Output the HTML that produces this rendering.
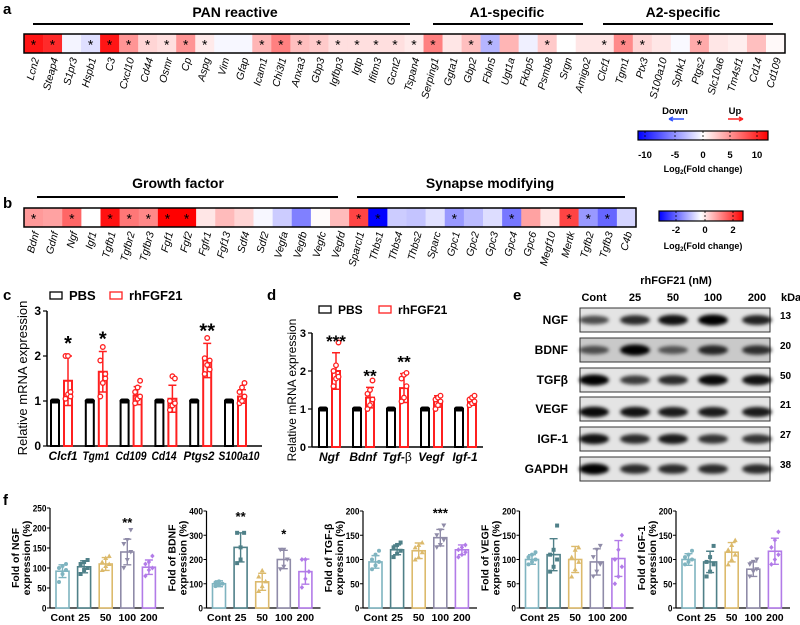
<!DOCTYPE html>
<html><head><meta charset="utf-8">
<style>
html,body{margin:0;padding:0;background:#fff;}
svg{display:block;font-family:"Liberation Sans",Arial,sans-serif;}
</style></head>
<body>
<svg id="fig" width="800" height="625" viewBox="0 0 800 625" xmlns="http://www.w3.org/2000/svg">
<defs>
<linearGradient id="gradA" x1="0" x2="1" y1="0" y2="0"><stop offset="0" stop-color="#0000ff"/><stop offset="0.5" stop-color="#ffffff"/><stop offset="1" stop-color="#ff0000"/></linearGradient>
<filter id="blur" x="-30%" y="-60%" width="160%" height="220%"><feGaussianBlur stdDeviation="1.8"/></filter>
</defs>
</svg>
<script>
// ---------- DATA ----------
const genesA = ["Lcn2","Steap4","S1pr3","Hspb1","C3","Cxcl10","Cd44","Osmr","Cp","Aspg","Vim","Gfap","Icam1","Chi3l1","Anxa3","Gbp3","Igfbp3","Igtp","Ifitm3","Gcnt2","Tspan4","Serping1","Ggta1","Gbp2","Fbln5","Ugt1a","Fkbp5","Psmb8","Srgn","Amigo2","Clcf1","Tgm1","Ptx3","S100a10","Sphk1","Ptgs2","Slc10a6","Tm4sf1","Cd14","Cd109"];
const valuesA = [11,10,-0.5,-1.5,11,5,2,1.5,5,1,-0.4,-0.4,3.5,6,3,2.5,1.5,1.5,1.5,1.5,1,6,1.2,3,-3.5,3.5,-0.7,2.5,0,1.2,1.2,5.5,2,1.2,-0.3,4,1.2,0.8,3,0.3];
const starsA = [1,1,0,1,1,1,1,1,1,1,0,0,1,1,1,1,1,1,1,1,1,1,0,1,1,0,0,1,0,0,1,1,1,0,0,1,0,0,0,0];
const genesB = ["Bdnf","Gdnf","Ngf","Igf1","Tgfb1","Tgfbr2","Tgfbr3","Fgf1","Fgf2","Fgfr1","Fgf13","Sdf4","Sdf2","Vegfa","Vegfb","Vegfc","Vegfd","Sparcl1","Thbs1","Thbs4","Thbs2","Sparc","Gpc1","Gpc2","Gpc3","Gpc4","Gpc6","Megf10","Mertk","Tgfb2","Tgfb3","C4b"];
const valuesB = [1.2,1.1,1.8,0,2.8,1.6,1.4,3,3,0.3,0.8,0.5,-0.1,-0.6,-1.5,0.05,0.8,2.2,-3,-0.6,-0.7,-0.35,-1.2,-0.8,-0.4,-1.6,1.1,0.3,2.2,-1.2,-1.8,-0.5];
const starsB = [1,0,1,0,1,1,1,1,1,0,0,0,0,0,0,0,0,1,1,0,0,0,1,0,0,1,0,0,1,1,1,0];

const catsC = ["Clcf1","Tgm1","Cd109","Cd14","Ptgs2","S100a10"];
const meansC = [1.45,1.65,1.12,1.05,1.9,1.1];
const errsC = [0.55,0.45,0.2,0.3,0.38,0.15];
const ptsC = [[1.05,1.15,1.2,2.0,2.0,1.1],[1.1,1.4,1.6,1.9,2.2,1.5],[0.95,1.05,1.1,1.2,1.3,1.45],[0.8,0.9,0.95,1.0,1.55,1.5],[1.6,1.8,1.9,1.95,2.4,1.7],[0.95,1.0,1.1,1.2,1.3,1.4]];
const starsC = ["*","*","","","**",""];
const ticksC = [0,1,2,3];

const catsD = ["Ngf","Bdnf","Tgf-","Vegf","Igf-1"];
const meansD = [2.0,1.3,1.55,1.2,1.2];
const errsD = [0.48,0.27,0.38,0.15,0.1];
const ptsD = [[1.6,1.8,1.85,2.0,2.15,2.75],[1.0,1.1,1.25,1.4,1.5,1.75],[1.2,1.3,1.6,1.8,1.9,1.95],[1.0,1.1,1.2,1.25,1.3,1.35],[1.1,1.15,1.2,1.25,1.3,1.35]];
const starsD = ["***","**","**","",""];
const ticksD = [0,1,2,3];

const doses = ["Cont","25","50","100","200"];
const blotRows = ["NGF","BDNF","TGFβ","VEGF","IGF-1","GAPDH"];
const blotKda = ["13","20","50","21","27","38"];
const blotInt = [[0.55,0.75,0.9,1,0.8],[0.5,1,0.45,0.75,0.7],[1,0.65,0.75,0.95,0.9],[0.95,0.9,0.85,0.85,0.85],[0.9,0.75,0.85,0.7,0.7],[1,0.75,0.75,0.75,0.75]];

const fNames = ["NGF","BDNF","TGF-β","VEGF","IGF-1"];
const fMax = [250,400,200,200,200];
const fStep = [50,100,50,50,50];
const fMeans = [[92,103,110,140,102],[100,250,108,200,150],[95,120,118,145,120],[100,110,100,95,102],[100,95,115,80,117]];
const fErrs = [[16,15,16,32,18],[12,60,35,38,52],[13,10,16,17,10],[10,33,27,27,37],[12,22,20,15,27]];
const fPts = [
 [[65,85,95,100,105,110],[85,95,100,110,115,120],[95,105,110,115,125,130],[100,120,140,160,170,195],[80,95,100,110,115,130]],
 [[90,95,100,105,110],[185,200,310,310,250],[70,90,110,130,155],[160,170,200,240,240],[85,120,150,200,200]],
 [[80,88,95,100,110,118],[105,112,118,125,130,135],[100,105,115,125,130,135],[125,130,140,150,160,170],[105,110,115,120,125,130]],
 [[90,95,100,105,110,115],[75,85,100,110,120,170],[65,80,95,105,120,125],[65,75,90,105,120,128],[50,65,85,100,120,150]],
 [[90,95,100,105,110,118],[65,75,90,95,105,128],[90,100,110,120,130,140],[65,75,80,90,95,100],[90,100,110,125,140,157]]];
const fStars = [["","","","**",""],["","**","","*",""],["","","","***",""],["","","","",""],["","","","",""]];

// ---------- HELPERS ----------
const NS="http://www.w3.org/2000/svg";
const svg=document.getElementById('fig');
function mk(tag,attrs,parent){const e=document.createElementNS(NS,tag);for(const k in attrs)e.setAttribute(k,attrs[k]);(parent||svg).appendChild(e);return e;}
function txt(s,attrs,parent){const e=mk('text',attrs,parent);e.textContent=s;return e;}
function heat(v,m){const t=Math.max(-1,Math.min(1,v/m));if(t>=0){const g=Math.round(255*(1-t));return `rgb(255,${g},${g})`;}const g=Math.round(255*(1+t));return `rgb(${g},${g},255)`;}
let e;

// ---------- PANEL LETTERS ----------
[["a",3,14],["b",3,208],["c",3,300],["d",267,300],["e",513,300],["f",3,505]].forEach(p=>{
 e=txt(p[0],{x:p[1],y:p[2],'font-size':15,'font-weight':'bold'});
 
 
});

// ---------- HEATMAP ----------
function heatmap(genes,vals,stars,x0,x1,y0,h,m,key){
 const cw=(x1-x0)/genes.length;
 genes.forEach((g,i)=>{
  e=mk('rect',{x:x0+i*cw,y:y0,width:cw+0.3,height:h,fill:heat(vals[i],m)});
  
  
  if(stars[i]){e=txt('*',{x:x0+(i+.5)*cw,y:y0+h/2+6,'text-anchor':'middle','font-size':14});
   
   }
  const cx=x0+(i+.5)*cw+3, ly=y0+h+5;
  e=txt(g,{x:cx,y:ly,'text-anchor':'end','font-size':10.5,'font-style':'italic',transform:`rotate(-75 ${cx} ${ly})`,'dominant-baseline':'middle'});
  
  
 });
 e=mk('rect',{x:x0,y:y0,width:x1-x0,height:h,fill:'none',stroke:'#000','stroke-width':1.5});
 
 
}
heatmap(genesA,valuesA,starsA,24,785,34,19,12,'heatmap-a');
heatmap(genesB,valuesB,starsB,24,636,208,19,3,'heatmap-b');

function group(label,cx,ty,lx0,lx1,ly){
 e=txt(label,{x:cx,y:ty,'text-anchor':'middle','font-size':14,'font-weight':'bold'});
 
 
 e=mk('line',{x1:lx0,x2:lx1,y1:ly,y2:ly,stroke:'#000','stroke-width':2});
 
 
}
group("PAN reactive",235,17,33,410,24);
group("A1-specific",507,17,433,583,24);
group("A2-specific",683,17,603,773,24);
group("Growth factor",178,188,37,338,197);
group("Synapse modifying",490,188,357,625,197);

// legend a
e=txt("Down",{x:675,y:114,'text-anchor':'middle','font-size':9.5,'font-weight':'bold'});


e=txt("Up",{x:735,y:114,'text-anchor':'middle','font-size':9.5,'font-weight':'bold'});


e=mk('path',{d:'M669 119 L684 119 M669 119 l4 -2 M669 119 l4 2',stroke:'#3355ff','stroke-width':1.5,fill:'none'});


e=mk('path',{d:'M728 119 L743 119 M743 119 l-4 -2 M743 119 l-4 2',stroke:'#ff2222','stroke-width':1.5,fill:'none'});


function colorbar(x0,x1,y0,h,ticks,tickPos,ty,lx,ly,key){
 e=mk('rect',{x:x0,y:y0,width:x1-x0,height:h,fill:'url(#gradA)',stroke:'#000','stroke-width':1.2});
 
 
 ticks.forEach((t,i)=>{
  e=mk('line',{x1:tickPos[i],x2:tickPos[i],y1:y0,y2:y0+h,stroke:'#000','stroke-width':0.8,'stroke-dasharray':'2 2'});
  
  
  e=txt(t,{x:tickPos[i],y:ty,'text-anchor':'middle','font-size':9.5,'font-weight':'bold'});
  
  
 });
 e=txt("",{x:lx,y:ly,'text-anchor':'middle','font-size':9,'font-weight':'bold'});
 
 
 e.innerHTML='Log<tspan font-size="6" dy="2">2</tspan><tspan dy="-2">(Fold change)</tspan>';
}
colorbar(638,768,131,9,["-10","-5","0","5","10"],[645,675,703,730,757],158,703,172,'a');
colorbar(659,743,211,10,["-2","0","2"],[676,705,733],233,703,249,'b');

// ---------- BAR CHARTS c, d ----------
function mrnaChart(o){
 const y=v=>o.y0-v*o.k;
 e=mk('line',{x1:o.ax,x2:o.ax,y1:y(3),y2:o.y0,stroke:'#000','stroke-width':1.5});
 
 
 e=mk('line',{x1:o.ax,x2:o.axEnd,y1:o.y0,y2:o.y0,stroke:'#000','stroke-width':1.5});
 
 
 o.ticks.forEach(t=>{
  e=mk('line',{x1:o.ax-4,x2:o.ax,y1:y(t),y2:y(t),stroke:'#000','stroke-width':1.2});
  
  
  e=txt(String(t),{x:o.ax-6,y:y(t)+4,'text-anchor':'end','font-size':o.fs,'font-weight':'bold'});
  
  
 });
 e=txt("Relative mRNA expression",{x:o.ylx,y:o.yly,'text-anchor':'middle','font-size':o.fs+1,transform:`rotate(-90 ${o.ylx} ${o.yly})`});
 
 
 o.cats.forEach((c,i)=>{
  const gx=o.g0+i*o.gs;
  e=mk('rect',{x:gx,y:y(1),width:8,height:o.y0-y(1),fill:'#fff',stroke:'#000','stroke-width':2});
  
  
  e=mk('rect',{x:gx-1,y:y(1)-2.5,width:10,height:5,rx:2.5,fill:'#000'});
  
  
  const rx=gx+o.rOff, cx=rx+4;
  e=mk('rect',{x:rx,y:y(o.means[i]),width:8,height:o.y0-y(o.means[i]),fill:'#fff',stroke:'#ff2020','stroke-width':2});
  
  
  const eu=y(o.means[i]+o.errs[i]), ed=y(o.means[i]-o.errs[i]);
  e=mk('path',{d:`M${cx} ${ed} L${cx} ${eu} M${cx-4} ${eu} L${cx+4} ${eu} M${cx-4} ${ed} L${cx+4} ${ed}`,stroke:'#ff2020','stroke-width':1.5,fill:'none'});
  
  
  o.pts[i].forEach((p,j)=>{
   e=mk('circle',{cx:cx+(j%3-1)*2.5,cy:y(p),r:2.3,fill:'#fff',stroke:'#ff2020','stroke-width':1.3});
   
   
  });
  if(o.stars[i]){e=txt(o.stars[i],{x:cx,y:eu-6,'text-anchor':'middle','font-size':o.sfs,'font-weight':'bold'});
   
   }
  const la={x:o.lx?o.lx[i]:gx+o.lOff,y:o.y0+14,'text-anchor':'middle','font-size':o.lfs,'font-weight':'bold','font-style':'italic'};
  if(o.lw) {la.textLength=o.lw[i]; la.lengthAdjust='spacingAndGlyphs';}
  e=txt(c,la);
  
  
  if(c==="Tgf-"){const t2=mk('tspan',{'font-style':'normal','font-weight':'normal'},e);t2.textContent='β';}
 });
 e=mk('rect',{x:o.lgx,y:o.lgy-5,width:12,height:7,fill:'#fff',stroke:'#000','stroke-width':1.3});
 
 
 e=txt("PBS",{x:o.lgx+19,y:o.lgy+3,'font-size':o.fs+1,'font-weight':'bold'});
 
 
 e=mk('rect',{x:o.lgx+60,y:o.lgy-5,width:12,height:7,fill:'#fff',stroke:'#ff2020','stroke-width':1.3});
 
 
 e=txt("rhFGF21",{x:o.lgx+79,y:o.lgy+3,'font-size':o.fs+1,'font-weight':'bold'});
 
 
}
mrnaChart({key:'c',cats:catsC,means:meansC,errs:errsC,pts:ptsC,stars:starsC,ticks:ticksC,ax:47,axEnd:262,y0:446,k:45,g0:51,gs:34.8,rOff:13,lOff:10,lx:[63,96,131,164,199,239],lw:[29,27,31,25,31,41],lfs:12,fs:12,sfs:20,ylx:27,yly:378,lgx:50,lgy:297});
mrnaChart({key:'d',cats:catsD,means:meansD,errs:errsD,pts:ptsD,stars:starsD,ticks:ticksD,ax:312,axEnd:483,y0:447,k:38,g0:319,gs:34,rOff:13,lOff:10,lfs:12,fs:11,sfs:17,ylx:296,yly:390,lgx:319,lgy:311});

// ---------- WESTERN BLOT ----------
e=txt("rhFGF21 (nM)",{x:676,y:284,'text-anchor':'middle','font-size':11,'font-weight':'bold'});


const laneX=[594,635,673,713,757];
doses.forEach((d,i)=>{
 e=txt(d,{x:laneX[i],y:301,'text-anchor':'middle','font-size':11,'font-weight':'bold'});
 
 
});
e=txt("kDa",{x:781,y:301,'font-size':11,'font-weight':'bold'});


const rowY=[308,338,368,397,427,457];
blotRows.forEach((r,ri)=>{
 const y0=rowY[ri];
 e=mk('rect',{x:580,y:y0,width:190,height:24,fill:ri===1?'#c9c9c9':'#e4e4e4',stroke:'#333','stroke-width':1});
 
 
 blotInt[ri].forEach((v,li)=>{
  e=mk('ellipse',{cx:laneX[li],cy:y0+(ri===3?15:12),rx:15,ry:3+2.5*v,fill:'#000','fill-opacity':0.25+0.75*v,filter:'url(#blur)'});
  
  
 });
 e=txt(r,{x:568,y:y0+16,'text-anchor':'end','font-size':12,'font-weight':'bold'});
 
 
 e=txt(blotKda[ri],{x:780,y:y0+11,'font-size':10,'font-weight':'bold'});
 
 
});

// ---------- PANEL f ----------
const fCols=["#7fb4c0","#4f8088","#dcba6c","#8f8ba8","#b27be8"];
function marker(shape,x,y,c){
 let d;
 if(shape===0) return mk('circle',{cx:x,cy:y,r:2,fill:c});
 if(shape===1) d=`M${x-2} ${y-2}h4v4h-4z`;
 if(shape===2) d=`M${x} ${y-2.5}L${x+2.5} ${y+2}L${x-2.5} ${y+2}z`;
 if(shape===3) d=`M${x} ${y+2.5}L${x+2.5} ${y-2}L${x-2.5} ${y-2}z`;
 if(shape===4) d=`M${x} ${y-2.5}L${x+2.2} ${y}L${x} ${y+2.5}L${x-2.2} ${y}z`;
 return mk('path',{d:d,fill:c});
}
fNames.forEach((nm,k)=>{
 const ax=50+156.5*k, y0=608, top=(k===0?508:511);
 const y=v=>y0-(v/fMax[k])*(y0-top);
 e=mk('line',{x1:ax,x2:ax,y1:top,y2:y0,stroke:'#000','stroke-width':1.2});
 
 
 e=mk('line',{x1:ax,x2:ax+114,y1:y0,y2:y0,stroke:'#000','stroke-width':1.2});
 
 
 for(let t=0;t<=fMax[k];t+=fStep[k]){
  e=mk('line',{x1:ax-3,x2:ax,y1:y(t),y2:y(t),stroke:'#000','stroke-width':1});
  
  
  e=txt(String(t),{x:ax-3.5,y:y(t)+3.5,'text-anchor':'end','font-size':9,'font-weight':'bold',textLength:String(t).length*4.6,lengthAdjust:'spacingAndGlyphs'});
  
  
 }
 const tx1=ax-31, tx2=ax-20, ty=558;
 e=txt("Fold of "+nm,{x:tx1,y:ty,'text-anchor':'middle','font-size':10.5,'font-weight':'bold',transform:`rotate(-90 ${tx1} ${ty})`});
 
 
 e=txt("expression (%)",{x:tx2,y:ty,'text-anchor':'middle','font-size':10.5,'font-weight':'bold',transform:`rotate(-90 ${tx2} ${ty})`});
 
 
 doses.forEach((d,j)=>{
  const bx=ax+6+j*21.6, cx=bx+6.5, c=fCols[j], m=fMeans[k][j], er=fErrs[k][j];
  e=mk('rect',{x:bx,y:y(m),width:13,height:y0-y(m),fill:'#fff',stroke:c,'stroke-width':1.6});
  
  
  e=mk('path',{d:`M${cx} ${y(m-er)}V${y(m+er)}M${cx-4} ${y(m+er)}h8M${cx-4} ${y(m-er)}h8`,stroke:c,'stroke-width':1.4,fill:'none'});
  
  
  fPts[k][j].forEach((p,q)=>{
   e=marker(j,cx+((q%3)-1)*3.5,y(p),c);
   
   
  });
  if(fStars[k][j]){e=txt(fStars[k][j],{x:cx,y:y(m+er)-12,'text-anchor':'middle','font-size':13,'font-weight':'bold'});
   
   }
  e=txt(d,{x:cx,y:621,'text-anchor':'middle','font-size':10.5,'font-weight':'bold'});
  
  
 });
});
</script>
</body></html>
